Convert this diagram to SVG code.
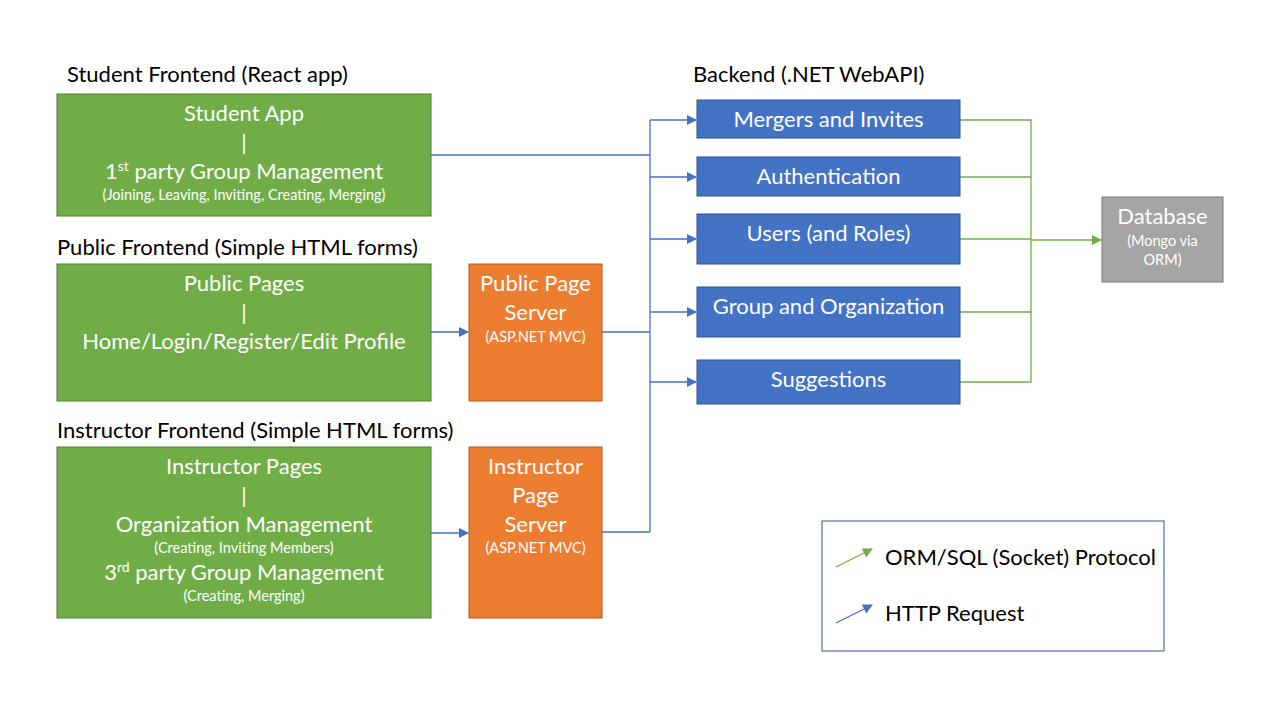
<svg xmlns="http://www.w3.org/2000/svg" width="1280" height="720" viewBox="0 0 1280 720">
<defs>
<marker id="ab" viewBox="0 0 10 10" refX="9" refY="5" markerWidth="10" markerHeight="10" markerUnits="userSpaceOnUse" orient="auto"><path d="M0,0 L10,5 L0,10 z" fill="#4472C4"/></marker>
<marker id="ag" viewBox="0 0 10 10" refX="9" refY="5" markerWidth="10" markerHeight="10" markerUnits="userSpaceOnUse" orient="auto"><path d="M0,0 L10,5 L0,10 z" fill="#70AD47"/></marker>
<style>
text{font-family:Lato,"Open Sans","Liberation Sans",sans-serif}
.t{font-size:22px;fill:#000}
.w{font-size:22px;fill:#fff;text-anchor:middle}
.s{font-size:14.5px;fill:#fff;text-anchor:middle}
.g{fill:#70AD47;stroke:#507E32;stroke-width:1}
.o{fill:#ED7D31;stroke:#AE5A21;stroke-width:1}
.b{fill:#4472C4;stroke:#2F528F;stroke-width:1}
.d{fill:#A5A5A5;stroke:#787878;stroke-width:1}
.cb{fill:none;stroke:#4472C4;stroke-width:1.3}
.cg{fill:none;stroke:#70AD47;stroke-width:1.3}
</style>
</defs>
<rect width="1280" height="720" fill="#fff"/>
<text class="t" x="67" y="82">Student Frontend (React app)</text>
<text class="t" x="57" y="255">Public Frontend (Simple HTML forms)</text>
<text class="t" x="57" y="438">Instructor Frontend (Simple HTML forms)</text>
<text class="t" x="693" y="82">Backend (.NET WebAPI)</text>

<g id="connectors">
<path class="cb" d="M431,155 H650"/>
<path class="cb" d="M602,332 H650"/>
<path class="cb" d="M602,532 H650"/>
<path class="cb" d="M650,120 V532"/>
<path class="cb" d="M650,120 H696" marker-end="url(#ab)"/>
<path class="cb" d="M650,177 H696" marker-end="url(#ab)"/>
<path class="cb" d="M650,239 H696" marker-end="url(#ab)"/>
<path class="cb" d="M650,312 H696" marker-end="url(#ab)"/>
<path class="cb" d="M650,382 H696" marker-end="url(#ab)"/>
<path class="cb" d="M431,332 H468" marker-end="url(#ab)"/>
<path class="cb" d="M431,533 H468" marker-end="url(#ab)"/>
<path class="cg" d="M960,120 H1031 V382 H960"/>
<path class="cg" d="M960,177 H1031"/>
<path class="cg" d="M960,239 H1031"/>
<path class="cg" d="M960,312 H1031"/>
<path class="cg" d="M1031,240 H1101" stroke-width="2" marker-end="url(#ag)"/>
</g>

<g id="student-app">
<rect class="g" x="57" y="94" width="374" height="122"/>
<text class="w" x="244" y="121">Student App</text>
<text class="w" x="244" y="150">|</text>
<text class="w" x="244" y="179">1<tspan font-size="14" dy="-8">st</tspan><tspan dy="8"> party Group Management</tspan></text>
<text class="s" x="244" y="200">(Joining, Leaving, Inviting, Creating, Merging)</text>
</g>

<g id="public-pages">
<rect class="g" x="57" y="264" width="374" height="137"/>
<text class="w" x="244" y="291">Public Pages</text>
<text class="w" x="244" y="320">|</text>
<text class="w" x="244" y="349">Home/Login/Register/Edit Profile</text>
</g>

<g id="public-server">
<rect class="o" x="469" y="264" width="133" height="137"/>
<text class="w" x="535.5" y="291">Public Page</text>
<text class="w" x="535.5" y="320">Server</text>
<text class="s" x="535.5" y="342">(ASP.NET MVC)</text>
</g>

<g id="instructor-pages">
<rect class="g" x="57" y="447" width="374" height="171"/>
<text class="w" x="244" y="474">Instructor Pages</text>
<text class="w" x="244" y="503">|</text>
<text class="w" x="244" y="532">Organization Management</text>
<text class="s" x="244" y="553">(Creating, Inviting Members)</text>
<text class="w" x="244" y="580">3<tspan font-size="14" dy="-8">rd</tspan><tspan dy="8"> party Group Management</tspan></text>
<text class="s" x="244" y="601">(Creating, Merging)</text>
</g>

<g id="instructor-server">
<rect class="o" x="469" y="447" width="133" height="171"/>
<text class="w" x="535.5" y="474">Instructor</text>
<text class="w" x="535.5" y="503">Page</text>
<text class="w" x="535.5" y="532">Server</text>
<text class="s" x="535.5" y="553">(ASP.NET MVC)</text>
</g>

<g id="mergers">
<rect class="b" x="697" y="100" width="263" height="38"/>
<text class="w" x="828.5" y="127">Mergers and Invites</text>
</g>
<g id="authentication">
<rect class="b" x="697" y="157" width="263" height="39"/>
<text class="w" x="828.5" y="184">Authentication</text>
</g>
<g id="users">
<rect class="b" x="697" y="214" width="263" height="50"/>
<text class="w" x="828.5" y="241">Users (and Roles)</text>
</g>
<g id="group-org">
<rect class="b" x="697" y="287" width="263" height="50"/>
<text class="w" x="828.5" y="314">Group and Organization</text>
</g>
<g id="suggestions">
<rect class="b" x="697" y="360" width="263" height="44"/>
<text class="w" x="828.5" y="387">Suggestions</text>
</g>

<g id="database">
<rect class="d" x="1102" y="197" width="121" height="85"/>
<text class="w" x="1162.5" y="224">Database</text>
<text class="s" x="1162.5" y="246">(Mongo via</text>
<text class="s" x="1162.5" y="265">ORM)</text>
</g>

<g id="legend">
<rect x="822" y="521" width="342" height="130" fill="#fff" stroke="#2F5597" stroke-width="1"/>
<path class="cg" d="M836,567 L872,549" marker-end="url(#ag)"/>
<text class="t" x="885" y="565">ORM/SQL (Socket) Protocol</text>
<path class="cb" d="M836,623 L872,605" marker-end="url(#ab)"/>
<text class="t" x="885" y="621">HTTP Request</text>
</g>
</svg>
